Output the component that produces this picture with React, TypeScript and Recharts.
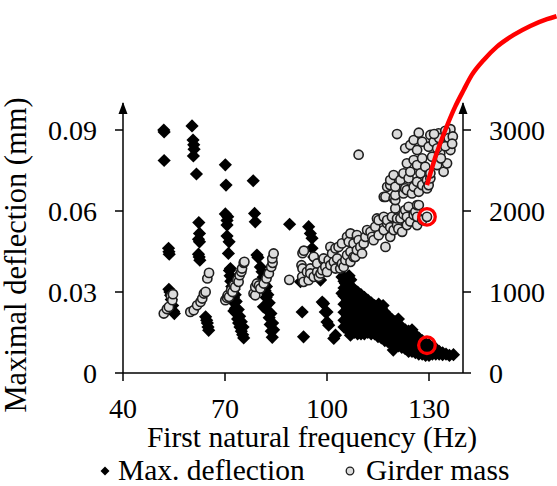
import React from 'react';
import { ScatterChart, Scatter, XAxis, YAxis, ReferenceDot, Legend, LineChart, Line } from 'recharts';

const FONT = "'Liberation Serif', 'Times New Roman', Times, serif";

const freqTicks = [40, 70, 100, 130];
const deflectionTicks = [0, 0.03, 0.06, 0.09];
const massTicks = [0, 1000, 2000, 3000];
const freqDomain: [number, number] = [40, 140];
const deflectionDomain: [number, number] = [0, 0.1];
const massDomain: [number, number] = [0, 3333.33];

// [first natural frequency (Hz), max. deflection (mm)]
const deflectionPoints: [number, number][] = [
  [52.0, 0.09], [52.1, 0.0893], [52.1, 0.0787],
  [53.4, 0.0462], [53.5, 0.0449], [53.6, 0.044],
  [53.5, 0.031], [53.8, 0.03], [54.0, 0.0288], [54.2, 0.0272], [54.6, 0.025], [54.9, 0.0228], [55.1, 0.022],
  [60.3, 0.0915], [60.6, 0.0863], [60.8, 0.0845], [60.9, 0.0829], [60.7, 0.0804], [61.6, 0.0737],
  [62.3, 0.0557], [62.5, 0.0517], [62.2, 0.0495], [62.5, 0.0486],
  [62.2, 0.044], [62.4, 0.043], [62.6, 0.0418],
  [64.3, 0.0208], [64.6, 0.0195], [64.8, 0.0185], [65.0, 0.017], [65.2, 0.0158],
  [70.1, 0.0771], [70.3, 0.0696], [70.1, 0.0589], [70.8, 0.0579], [70.6, 0.0565], [70.6, 0.0548],
  [70.6, 0.0507], [71.2, 0.0486], [71.0, 0.0443], [71.6, 0.0387],
  [71.3, 0.038], [71.5, 0.036], [71.7, 0.034], [72.0, 0.032], [72.2, 0.03], [72.5, 0.028], [72.8, 0.026],
  [73.1, 0.024], [73.4, 0.022], [73.7, 0.02], [74.0, 0.0185], [74.4, 0.017], [74.8, 0.0155], [75.2, 0.0142], [75.5, 0.013],
  [72.4, 0.035], [72.7, 0.031], [73.0, 0.029], [73.3, 0.0265], [73.9, 0.0235], [74.3, 0.021], [74.8, 0.019],
  [75.3, 0.017], [72.0, 0.027], [72.6, 0.023],
  [78.3, 0.0712], [78.7, 0.0591], [78.9, 0.056], [79.4, 0.0437], [79.7, 0.0428], [80.4, 0.0393],
  [80.9, 0.0375], [81.2, 0.0355], [81.5, 0.033], [81.8, 0.0305], [82.1, 0.028], [82.4, 0.0255], [82.7, 0.023],
  [83.0, 0.0205], [83.3, 0.018], [83.6, 0.0155], [83.9, 0.0132],
  [81.8, 0.035], [82.2, 0.032], [82.6, 0.029], [83.0, 0.026], [83.5, 0.022], [84.0, 0.0185], [84.3, 0.016], [81.3, 0.0245],
  [89.0, 0.0551],
  [92.2, 0.0338], [92.7, 0.0226], [93.1, 0.0134],
  [94.6, 0.0542], [95.1, 0.0517], [95.6, 0.0499], [95.6, 0.0462], [96.1, 0.043],
  [98.1, 0.0344], [98.6, 0.0263], [99.0, 0.0257], [99.5, 0.0226], [100.0, 0.0226], [100.0, 0.0189],
  [100.5, 0.0177], [102.0, 0.0128], [102.5, 0.014],
  [104.4, 0.0356], [104.9, 0.0356], [105.4, 0.0332], [104.4, 0.0295], [105.9, 0.028], [106.4, 0.0245],
  [106.9, 0.0208], [107.4, 0.0171], [106.9, 0.014], [106.5, 0.036], [107.0, 0.0345], [108.8, 0.027],
  // dense cluster 105-137 Hz
  [105, 0.034], [105, 0.0315], [105, 0.0285], [105, 0.0255], [105, 0.0225], [105, 0.0195], [105, 0.017],
  [106, 0.033], [106, 0.03], [106, 0.027], [106, 0.024], [106, 0.021], [106, 0.018], [106, 0.016],
  [107, 0.032], [107, 0.0285], [107, 0.0255], [107, 0.0225], [107, 0.0195], [107, 0.0165], [107, 0.0155],
  [108, 0.031], [108, 0.027], [108, 0.024], [108, 0.021], [108, 0.018], [108, 0.015],
  [109, 0.03], [109, 0.0255], [109, 0.0225], [109, 0.0195], [109, 0.0165], [109, 0.0145],
  [110, 0.029], [110, 0.027], [110, 0.024], [110, 0.021], [110, 0.018], [110, 0.0145],
  [111, 0.028], [111, 0.0255], [111, 0.0225], [111, 0.0195], [111, 0.0165], [111, 0.0145],
  [112, 0.027], [112, 0.024], [112, 0.021], [112, 0.018], [112, 0.015],
  [113, 0.026], [113, 0.0225], [113, 0.0195], [113, 0.0165], [113, 0.0145],
  [114, 0.025], [114, 0.021], [114, 0.018], [114, 0.0145],
  [115, 0.025], [115, 0.0225], [115, 0.0195], [115, 0.0165], [115, 0.0135],
  [116, 0.024], [116, 0.021], [116, 0.018], [116, 0.015], [116, 0.013],
  [117, 0.0225], [117, 0.0195], [117, 0.0165], [117, 0.0135], [117, 0.012],
  [118, 0.021], [118, 0.018], [118, 0.015], [118, 0.0115],
  [119, 0.02], [119, 0.0165], [119, 0.0135], [119, 0.011],
  [120, 0.019], [120, 0.016], [120, 0.013], [120, 0.0105],
  [121, 0.018], [121, 0.0155], [121, 0.0125], [121, 0.01],
  [122, 0.017], [122, 0.014], [122, 0.0115], [122, 0.0095],
  [123, 0.016], [123, 0.0135], [123, 0.011], [123, 0.009],
  [124, 0.0155], [124, 0.0125], [124, 0.01], [124, 0.008],
  [125, 0.015], [125, 0.012], [125, 0.0095], [125, 0.008],
  [126, 0.014], [126, 0.011], [126, 0.0085], [126, 0.0075],
  [127, 0.013], [127, 0.0105], [127, 0.008], [127, 0.007],
  [128, 0.012], [128, 0.0095], [128, 0.007],
  [129, 0.011], [129, 0.0085], [129, 0.0065],
  [130, 0.0105], [130, 0.008], [130, 0.0065],
  [131, 0.0095], [131, 0.007],
  [132, 0.009], [132, 0.007],
  [133, 0.008], [133, 0.007],
  [134, 0.0075], [134, 0.0068],
  [135, 0.007], [136, 0.0065], [137.2, 0.0068],
  [115.2, 0.0255], [116.5, 0.025], [109.0, 0.0148], [121.0, 0.02], [119.5, 0.0085], [125.0, 0.016],
];

// [first natural frequency (Hz), girder mass (kg)]
const massPoints: [number, number][] = [
  [52.0, 734], [52.9, 790], [53.5, 816], [54.1, 950], [54.5, 899], [54.7, 973],
  [59.8, 754], [60.8, 775], [61.8, 836], [62.8, 878], [63.3, 920], [63.8, 981], [64.3, 1001], [64.8, 1167], [65.3, 1236],
  [70.1, 899], [70.6, 930], [70.8, 960], [71.2, 940], [71.8, 1022], [72.2, 1000], [72.6, 1084], [73.0, 1060],
  [73.6, 1146], [74.0, 1125], [74.3, 1208], [74.8, 1250], [75.0, 1290], [75.5, 1360], [75.7, 1372],
  [78.4, 981], [78.9, 960], [78.9, 1063], [79.4, 1105], [80.0, 1080], [80.4, 1043], [81.4, 1105], [82.2, 1167],
  [82.9, 1229], [83.6, 1310], [84.0, 1360], [83.9, 1414], [84.3, 1476],
  [88.9, 1150], [92.5, 1330], [92.8, 1290], [92.8, 1480], [93.2, 1510],
  [92.7, 1187], [93.1, 1125], [94.1, 1248], [94.6, 1146], [95.1, 1290], [95.1, 1229], [96.1, 1187], [96.1, 1434],
  [97.1, 1248], [97.1, 1352], [97.6, 1187], [98.1, 1229], [98.6, 1269], [99.0, 1393], [99.0, 1414], [99.5, 1310],
  [100.0, 1248], [100.5, 1393], [101.0, 1331], [101.0, 1557], [101.5, 1476], [102.0, 1372], [102.5, 1290],
  [102.5, 1538], [103.0, 1414], [103.4, 1557], [103.9, 1290], [104.4, 1352], [104.4, 1600], [104.9, 1310],
  [105.4, 1393], [105.9, 1455], [105.9, 1681], [106.4, 1620], [106.9, 1372], [106.9, 1496], [106.9, 1723],
  [107.8, 1434], [107.8, 1599], [108.3, 1434], [108.8, 1517], [108.8, 1702], [109.3, 1640], [109.8, 1557],
  [110.3, 1476], [110.8, 1599], [111.3, 1681], [111.8, 1764], [112.8, 1743], [113.3, 1681], [113.7, 1640],
  [114.2, 1805], [114.7, 1908], [115.2, 1702], [115.2, 1887], [116.7, 1764], [116.7, 1928], [117.2, 1557],
  [117.7, 1847], [117.7, 1887], [118.6, 1681], [118.6, 1800], [119.1, 1928], [119.6, 1764], [120.1, 2032],
  [120.6, 1826], [120.6, 1908], [121.0, 1780], [121.6, 1908], [122.1, 1743], [122.5, 1960], [123.0, 2011],
  [123.5, 1826], [123.5, 1928], [124.0, 2052], [124.5, 1870], [125.5, 1950], [126.0, 1990], [126.5, 1826],
  [126.5, 1928], [126.5, 2073], [127.0, 2073], [128.0, 1887], [129.4, 1928],
  [116.7, 2175], [117.2, 2175], [117.7, 2299], [118.6, 2320], [118.6, 2382], [119.6, 2156], [119.6, 2444],
  [120.1, 2135], [120.1, 2196], [120.1, 2299], [121.6, 2382], [122.5, 2217], [122.5, 2465], [123.0, 2279],
  [123.5, 2258], [123.5, 2588], [124.0, 2403], [124.5, 2484], [125.0, 2217], [125.5, 2299], [125.5, 2629],
  [126.5, 2361], [126.5, 2567], [127.0, 2237], [127.5, 2465], [128.0, 2320], [128.0, 2650], [128.9, 2546],
  [129.4, 2279], [129.4, 2382], [129.9, 2320], [130.4, 2403], [130.4, 2465], [130.9, 2670], [132.4, 2567],
  [133.3, 2712], [134.3, 2484], [135.3, 2588],
  [120.6, 2950], [109.3, 2695], [123.0, 2774], [124.5, 2815], [125.5, 2876], [126.5, 2753], [127.0, 2966],
  [128.0, 2855], [129.9, 2793], [130.4, 2938], [131.4, 2855], [132.4, 2774], [132.8, 2958], [134.3, 2876],
  [135.3, 2835], [136.3, 2958], [136.3, 2753], [136.3, 3010], [134.8, 2990], [135.8, 2900], [137.0, 2920],
  [134.8, 2800], [136.8, 2830], [133.5, 2650], [133.0, 2900], [131.5, 2950],
];

const highlightedDeflection: [number, number][] = [[129.4, 0.0103]];
const highlightedMass: [number, number][] = [[129.4, 1928]];

// leader curve (Hz, kg on the mass scale), running out of the plot to the top right
const leaderCurve: [number, number][] = [
  [129.4, 2320], [131.9, 2670], [134.8, 3000], [137.7, 3288], [140.2, 3494], [142.6, 3680],
  [146.1, 3865], [150.0, 4029], [154.9, 4174], [159.8, 4285], [164.7, 4368], [167.5, 4405],
];
// full-canvas domains of the overlay that carries the leader curve
const overlayFreqDomain: [number, number] = [3.824, 167.647];
const overlayMassDomain: [number, number] = [-1395.1, 4604.9];

const toXY = (pts: [number, number][]) => pts.map(([x, y]) => ({ x, y }));

const Diamond = (p: any) => {
  const { cx, cy } = p;
  if (cx == null || cy == null) return null;
  const s = 6.6;
  return <path d={`M${cx},${cy - s}L${cx + s},${cy}L${cx},${cy + s}L${cx - s},${cy}Z`} fill="#000" />;
};
const GreyCircle = (p: any) => {
  const { cx, cy } = p;
  if (cx == null || cy == null) return null;
  return <circle cx={cx} cy={cy} r={4.6} fill="#dcdcdc" stroke="#1e1e1e" strokeWidth={1.6} />;
};
const RedRing = (p: any) => {
  const { cx, cy } = p;
  if (cx == null || cy == null) return null;
  return <circle cx={cx} cy={cy} r={8.3} fill="none" stroke="#ff0000" strokeWidth={3.3} />;
};
const ArrowUp = (p: any) => {
  const { cx, cy } = p;
  if (cx == null || cy == null) return null;
  return <path d={`M${cx},${cy - 1}L${cx + 4.5},${cy + 11}L${cx - 4.5},${cy + 11}Z`} fill="#000" />;
};

const renderXLabel = (props: any) => {
  const vb = props.viewBox || {};
  return (
    <text x={vb.x + vb.width / 2 + 19} y={vb.y + 74} textAnchor="middle" fontSize={29.5} fontFamily={FONT} fill="#000">
      First natural frequency (Hz)
    </text>
  );
};
const renderYLabel = (props: any) => {
  const vb = props.viewBox || {};
  const x = vb.x + 26;
  const y = vb.y + vb.height / 2 + 17;
  return (
    <text x={x} y={y} transform={`rotate(-90, ${x}, ${y})`} textAnchor="middle" fontSize={30.5} fontFamily={FONT} fill="#000">
      Maximal deflection (mm)
    </text>
  );
};

const renderLegend = () => (
  <svg width={557} height={40} style={{ display: 'block', overflow: 'visible' }}>
    <path d="M105,16.5L109.5,21L105,25.5L100.5,21Z" fill="#000" />
    <text x={118} y={30} fontSize={29.5} fontFamily={FONT} fill="#000">Max. deflection</text>
    <circle cx={350} cy={21} r={3.8} fill="#dcdcdc" stroke="#1e1e1e" strokeWidth={1.3} />
    <text x={366} y={30} fontSize={29.5} fontFamily={FONT} fill="#000">Girder mass</text>
  </svg>
);

const axisLine = { stroke: '#000', strokeWidth: 1.5 };
const tickStyle = { fill: '#000', fontSize: 28, fontFamily: FONT };

export default function App() {
  return (
    <div style={{ position: 'absolute', left: 0, top: 0, width: 557, height: 486, background: '#fff' }}>
      <ScatterChart width={557} height={486} margin={{ top: 103, right: 0, bottom: 0, left: 0 }}>
        <XAxis
          type="number"
          dataKey="x"
          domain={freqDomain}
          ticks={freqTicks}
          interval={0}
          height={113}
          tickSize={8}
          tickMargin={17}
          axisLine={axisLine}
          tickLine={axisLine}
          tick={tickStyle}
          label={renderXLabel}
        />
        <YAxis
          yAxisId="left"
          type="number"
          dataKey="y"
          orientation="left"
          domain={deflectionDomain}
          ticks={deflectionTicks}
          interval={0}
          width={123}
          tickSize={8}
          tickMargin={18}
          axisLine={axisLine}
          tickLine={axisLine}
          tick={tickStyle}
          tickFormatter={(v: number) => (v === 0 ? '0' : v.toFixed(2))}
          label={renderYLabel}
        />
        <YAxis
          yAxisId="right"
          type="number"
          dataKey="y"
          orientation="right"
          domain={massDomain}
          ticks={massTicks}
          interval={0}
          width={94}
          tickSize={8}
          tickMargin={18}
          axisLine={axisLine}
          tickLine={axisLine}
          tick={tickStyle}
        />
        <Scatter yAxisId="left" data={toXY(deflectionPoints)} shape={Diamond} isAnimationActive={false} />
        <Scatter yAxisId="right" data={toXY(massPoints)} shape={GreyCircle} isAnimationActive={false} />
        <Scatter yAxisId="left" data={toXY(highlightedDeflection)} shape={RedRing} isAnimationActive={false} />
        <Scatter yAxisId="right" data={toXY(highlightedMass)} shape={RedRing} isAnimationActive={false} />
        <ReferenceDot yAxisId="left" x={freqDomain[0]} y={deflectionDomain[1]} shape={ArrowUp} ifOverflow="visible" />
        <ReferenceDot yAxisId="right" x={freqDomain[1]} y={massDomain[1]} shape={ArrowUp} ifOverflow="visible" />
        <Legend
          verticalAlign="middle"
          align="center"
          layout="horizontal"
          content={renderLegend}
          wrapperStyle={{ position: 'absolute', top: 450, left: 0, width: 557, height: 40, margin: 0 }}
        />
      </ScatterChart>
      <div style={{ position: 'absolute', left: 0, top: 0, pointerEvents: 'none' }}>
        <LineChart width={557} height={486} margin={{ top: 0, right: 0, bottom: 0, left: 0 }} data={toXY(leaderCurve)}>
          <XAxis hide type="number" dataKey="x" domain={overlayFreqDomain} allowDataOverflow height={0} />
          <YAxis hide type="number" domain={overlayMassDomain} allowDataOverflow width={0} />
          <Line dataKey="y" type="monotone" stroke="#ff0000" strokeWidth={4.5} dot={false} isAnimationActive={false} />
        </LineChart>
      </div>
    </div>
  );
}
